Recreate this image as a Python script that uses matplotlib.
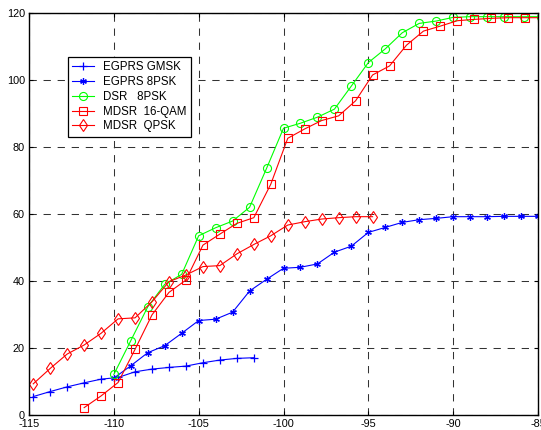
import matplotlib
matplotlib.use("Agg")
import matplotlib.pyplot as plt
import numpy as np

plt.rcParams['font.family'] = ['Liberation Sans', 'DejaVu Sans']

# ---- data ----
gmsk_x = [-114.75, -113.75, -112.75, -111.75, -110.75, -109.75, -108.75, -107.75,
          -106.75, -105.75, -104.75, -103.75, -102.75, -101.75]
gmsk_y = [5.5, 7.0, 8.4, 9.6, 10.7, 11.2, 12.9, 13.7, 14.2, 14.6, 15.6, 16.4, 16.9, 17.1]

psk8_x = list(range(-110, -84))
psk8_y = [11.0, 14.7, 18.6, 20.7, 24.4, 28.2, 28.6, 30.7, 37.0, 40.5,
          43.8, 44.1, 45.1, 48.6, 50.4, 54.5, 56.0, 57.5, 58.3, 58.7,
          59.2, 59.2, 59.2, 59.3, 59.3, 59.3]

dsr_x = [-110, -109, -108, -107, -106, -105, -104, -103, -102, -101,
         -100, -99, -98, -97, -96, -95, -94, -93, -92, -91,
         -90, -89, -88, -87, -85.8, -84.8]
dsr_y = [12.1, 22.2, 32.3, 39.0, 42.0, 53.5, 55.9, 57.9, 62.0, 73.6,
         85.6, 87.1, 88.9, 91.3, 98.2, 105.2, 109.3, 114.1, 116.9, 117.6,
         118.7, 118.9, 118.9, 118.9, 118.9, 118.9]

qam_x = [-111.75 + k for k in range(28)]
qam_y = [2.2, 5.7, 9.7, 19.6, 29.9, 36.6, 40.3, 50.7, 54.0, 57.2,
         58.9, 68.9, 82.6, 85.4, 87.9, 89.3, 93.8, 101.5, 104.2, 110.4,
         114.6, 116.1, 117.7, 118.1, 118.4, 118.6, 118.6, 118.6]

qpsk_x = [-114.75 + k for k in range(21)]
qpsk_y = [9.3, 13.9, 18.2, 20.9, 24.4, 28.7, 29.0, 33.8, 39.8, 41.8,
          44.3, 44.6, 48.1, 50.9, 53.5, 56.7, 57.7, 58.5, 58.9, 59.2, 59.2]

labels = ["EGPRS GMSK", "EGPRS 8PSK", "DSR   8PSK", "MDSR  16-QAM", "MDSR  QPSK"]
xticks = [-115, -110, -105, -100, -95, -90, -85]
yticks = [0, 20, 40, 60, 80, 100, 120]

fig = plt.figure(figsize=(5.41, 4.30), dpi=100)
ax = fig.add_axes([29/541, 15/430, (538-29)/541, (415-13)/430])

lw = 0.8
blue, green, red = '#0000ff', '#00ff00', '#ff0000'
ax.plot(gmsk_x, gmsk_y, color=blue, lw=lw, marker='+', ms=6, mew=0.9, label=labels[0])
ax.plot(psk8_x, psk8_y, color=blue, lw=lw, marker=(6, 2, 0), ms=4.8, mew=0.9, label=labels[1])
ax.plot(dsr_x, dsr_y, color=green, lw=lw, marker='o', ms=5.8, mfc='none', mew=0.8, label=labels[2])
ax.plot(qam_x, qam_y, color=red, lw=lw, marker='s', ms=5.3, mfc='none', mew=0.8, label=labels[3])
ax.plot(qpsk_x, qpsk_y, color=red, lw=lw, marker='d', ms=6.6, mfc='none', mew=0.8, label=labels[4])

ax.set_xlim(-115, -85)
ax.set_ylim(0, 120)
ax.set_xticks(xticks)
ax.set_yticks(yticks)
ax.set_xticklabels([str(t) for t in xticks])
ax.set_yticklabels([str(t) for t in yticks])
ax.tick_params(direction='in', top=True, right=True, labelsize=7.8, length=3, width=0.8, pad=3)
ax.grid(True, color='#333333', lw=0.75, dashes=(7, 6.5))
for s in ax.spines.values():
    s.set_linewidth(1.0)

leg = ax.legend(loc='upper left', bbox_to_anchor=(67.5/541, 1 - 57/430),
                bbox_transform=fig.transFigure, borderaxespad=0, fontsize=8.3,
                fancybox=False, framealpha=1, edgecolor='black',
                handlelength=1.9, labelspacing=0.24, borderpad=0.38, handletextpad=0.8)
leg.get_frame().set_linewidth(0.9)

fig.savefig('out.png', dpi=100)
